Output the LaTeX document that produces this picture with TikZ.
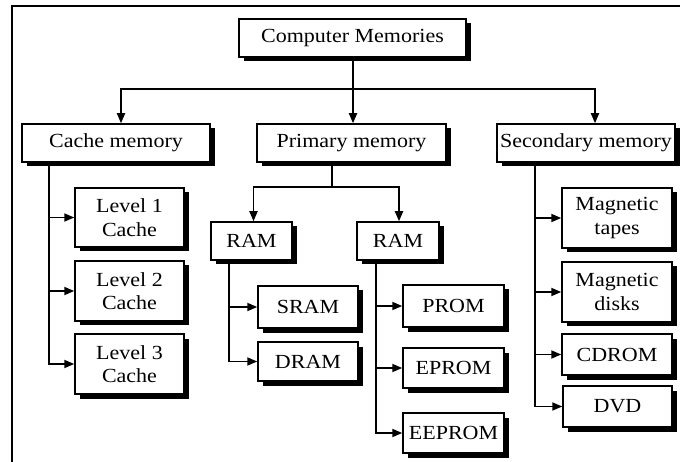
\documentclass[tikz,border=0pt]{standalone}
\usepackage{fontspec}
\setmainfont{Liberation Serif}[FakeStretch=1.1]
\usetikzlibrary{arrows.meta,shadows,calc}
\begin{document}
\begin{tikzpicture}[x=1pt,y=-1pt,
  box/.style={draw, line width=1.5pt, fill=white, align=center, inner sep=0pt,
    font=\fontsize{20}{23.5}\selectfont,
    drop shadow={shadow xshift=4.5pt, shadow yshift=-4.5pt, fill=black, opacity=1}},
  wire/.style={line width=1.8pt},
  arr/.style={wire, -{Triangle[length=10pt,width=8pt]}}]
\useasboundingbox (0,0) rectangle (680,462);
\draw[line width=2.4pt] (12,462) -- (12,6) -- (680,6);

\node[box, minimum width=227, minimum height=38] (top) at (352.5,38) {Computer Memories};
\node[box, minimum width=188, minimum height=38] (cache) at (116,143) {Cache memory};
\node[box, minimum width=189, minimum height=38] (primary) at (351.5,143) {Primary memory};
\node[box, minimum width=178, minimum height=38] (secondary) at (586,143) {Secondary memory};

\node[box, minimum width=109, minimum height=59] (l1) at (129.5,217.5) {Level 1\\Cache};
\node[box, minimum width=109, minimum height=60] (l2) at (129.5,291) {Level 2\\Cache};
\node[box, minimum width=109, minimum height=60] (l3) at (129.5,364) {Level 3\\Cache};

\node[box, minimum width=81, minimum height=38] (ram1) at (251.5,241) {RAM};
\node[box, minimum width=82, minimum height=38] (ram2) at (398,241) {RAM};
\node[box, minimum width=100, minimum height=42] (sram) at (308,307) {SRAM};
\node[box, minimum width=100, minimum height=39] (dram) at (308,361.5) {DRAM};
\node[box, minimum width=101, minimum height=42] (prom) at (453.5,306) {PROM};
\node[box, minimum width=101, minimum height=40] (eprom) at (453.5,368) {EPROM};
\node[box, minimum width=101, minimum height=40] (eeprom) at (453.5,433) {EEPROM};

\node[box, minimum width=110, minimum height=60] (tapes) at (617,218) {Magnetic\\tapes};
\node[box, minimum width=110, minimum height=60] (disks) at (617,292) {Magnetic\\disks};
\node[box, minimum width=110, minimum height=41] (cdrom) at (617,354.5) {CDROM};
\node[box, minimum width=109, minimum height=41] (dvd) at (617.5,406.5) {DVD};

% top level bus
\coordinate (bus) at (353,89);
\draw[wire] (top.south -| bus) -- (bus);
\draw[arr] (bus) -| ([xshift=5pt]cache.north);
\draw[arr] (bus) -| ([xshift=9pt]secondary.north);
\draw[arr] (bus) -- (bus |- primary.north);

% cache
\coordinate (cx) at (49,162);
\draw[arr] (cx) |- (l1.west);
\draw[arr] (cx) |- (l2.west);
\draw[arr] (cx) |- (l3.west);

% primary
\coordinate (pj) at (332,187);
\draw[wire] (pj |- primary.south) -- (pj);
\draw[arr] (pj) -| ([xshift=2pt]ram1.north);
\draw[arr] (pj) -| ([xshift=1pt]ram2.north);

% RAM 1
\coordinate (r1) at (229,260);
\draw[arr] (r1) |- (sram.west);
\draw[arr] (r1) |- (dram.west);

% RAM 2
\coordinate (r2) at (376,260);
\draw[arr] (r2) |- (prom.west);
\draw[arr] (r2) |- (eprom.west);
\draw[arr] (r2) |- (eeprom.west);

% secondary
\coordinate (sx) at (535,162);
\draw[arr] (sx) |- (tapes.west);
\draw[arr] (sx) |- (disks.west);
\draw[arr] (sx) |- (cdrom.west);
\draw[arr] (sx) |- (dvd.west);
\end{tikzpicture}
\end{document}
